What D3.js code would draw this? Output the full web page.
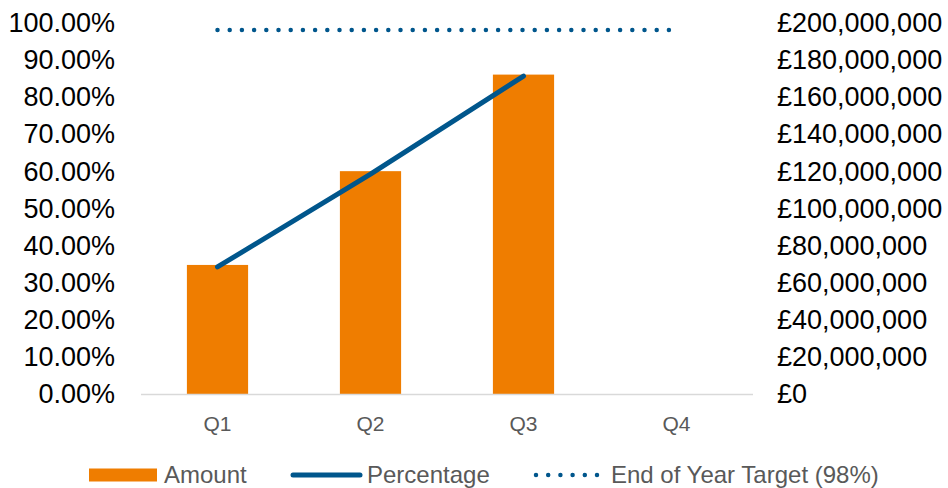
<!DOCTYPE html>
<html>
<head>
<meta charset="utf-8">
<script src="https://cdn.jsdelivr.net/npm/d3@7"></script>
<style>
  body { margin: 0; background: #fff; }
  text { font-family: "Liberation Sans", Arial, sans-serif; }
</style>
</head>
<body>
<svg id="chart" width="948" height="488"></svg>
<script>
// quarters and series
const quarters = ["Q1", "Q2", "Q3", "Q4"];
const amounts = [69500000, 120000000, 172000000, null];
const percentages = [0.342, 0.592, 0.856, null];
const target = 0.98;
const pctTicks = [0, 0.1, 0.2, 0.3, 0.4, 0.5, 0.6, 0.7, 0.8, 0.9, 1];
const amountTicks = [0, 20e6, 40e6, 60e6, 80e6, 100e6, 120e6, 140e6, 160e6, 180e6, 200e6];

const orange = "#ef7d00";
const blue = "#00568c";

const svg = d3.select("#chart");
const plot = { left: 141, right: 753, top: 22.6, bottom: 394 };

const x = d3.scaleBand().domain(quarters).range([plot.left, plot.right])
    .paddingInner(0.6).paddingOuter(0.3);
const yPct = d3.scaleLinear().domain([0, 1]).range([plot.bottom, plot.top]);
const yAmt = d3.scaleLinear().domain([0, 200e6]).range([plot.bottom, plot.top]);

// left axis labels
const pctFmt = d3.format(".2%");
svg.append("g").selectAll("text").data(pctTicks).join("text")
    .attr("x", 115)
    .attr("y", d => yPct(d))
    .attr("dy", "0.35em")
    .attr("text-anchor", "end")
    .attr("font-size", "27px")
    .attr("fill", "#000")
    .text(d => pctFmt(d));

// right axis labels
const amtFmt = d => "£" + d3.format(",")(d);
svg.append("g").selectAll("text").data(amountTicks).join("text")
    .attr("x", 777)
    .attr("y", d => yAmt(d))
    .attr("dy", "0.35em")
    .attr("text-anchor", "start")
    .attr("font-size", "27px")
    .attr("fill", "#000")
    .text(d => amtFmt(d));

// bars
svg.append("g").selectAll("rect")
    .data(quarters.map((q, i) => ({ q, v: amounts[i] })).filter(d => d.v != null))
    .join("rect")
    .attr("x", d => x(d.q))
    .attr("width", x.bandwidth())
    .attr("y", d => yAmt(d.v))
    .attr("height", d => plot.bottom - yAmt(d.v))
    .attr("fill", orange);

// category axis line
svg.append("line")
    .attr("x1", plot.left).attr("x2", plot.right)
    .attr("y1", plot.bottom + 0.5).attr("y2", plot.bottom + 0.5)
    .attr("stroke", "#d9d9d9")
    .attr("stroke-width", 1.5);

svg.append("g").selectAll("text").data(quarters).join("text")
    .attr("x", d => x(d) + x.bandwidth() / 2)
    .attr("y", 424)
    .attr("dy", "0.35em")
    .attr("text-anchor", "middle")
    .attr("font-size", "21px")
    .attr("fill", "#595959")
    .text(d => d);

// target dotted line
svg.append("line")
    .attr("x1", x("Q1") + x.bandwidth() / 2)
    .attr("x2", x("Q4") + x.bandwidth() / 2)
    .attr("y1", yPct(target)).attr("y2", yPct(target))
    .attr("stroke", blue)
    .attr("stroke-width", 4.5)
    .attr("stroke-linecap", "round")
    .attr("stroke-dasharray", "0 12.2");

// percentage line
const line = d3.line()
    .defined(d => d.v != null)
    .x(d => x(d.q) + x.bandwidth() / 2)
    .y(d => yPct(d.v));
svg.append("path")
    .datum(quarters.map((q, i) => ({ q, v: percentages[i] })))
    .attr("d", line)
    .attr("fill", "none")
    .attr("stroke", blue)
    .attr("stroke-width", 5)
    .attr("stroke-linecap", "round")
    .attr("stroke-linejoin", "round");

// legend
const legend = svg.append("g");
const ly = 475;
legend.append("rect")
    .attr("x", 89).attr("y", ly - 6.5)
    .attr("width", 68).attr("height", 13)
    .attr("fill", orange);
legend.append("line")
    .attr("x1", 293).attr("x2", 360)
    .attr("y1", ly).attr("y2", ly)
    .attr("stroke", blue).attr("stroke-width", 5)
    .attr("stroke-linecap", "round");
legend.append("line")
    .attr("x1", 536).attr("x2", 598)
    .attr("y1", ly).attr("y2", ly)
    .attr("stroke", blue).attr("stroke-width", 4.5)
    .attr("stroke-linecap", "round")
    .attr("stroke-dasharray", "0 12.2");
const legendItems = [
    { label: "Amount", x: 164 },
    { label: "Percentage", x: 367 },
    { label: "End of Year Target (98%)", x: 611 }
];
legend.selectAll("text").data(legendItems).join("text")
    .attr("x", d => d.x)
    .attr("y", ly)
    .attr("dy", "0.35em")
    .attr("font-size", "24px")
    .attr("fill", "#595959")
    .text(d => d.label);
</script>
</body>
</html>
